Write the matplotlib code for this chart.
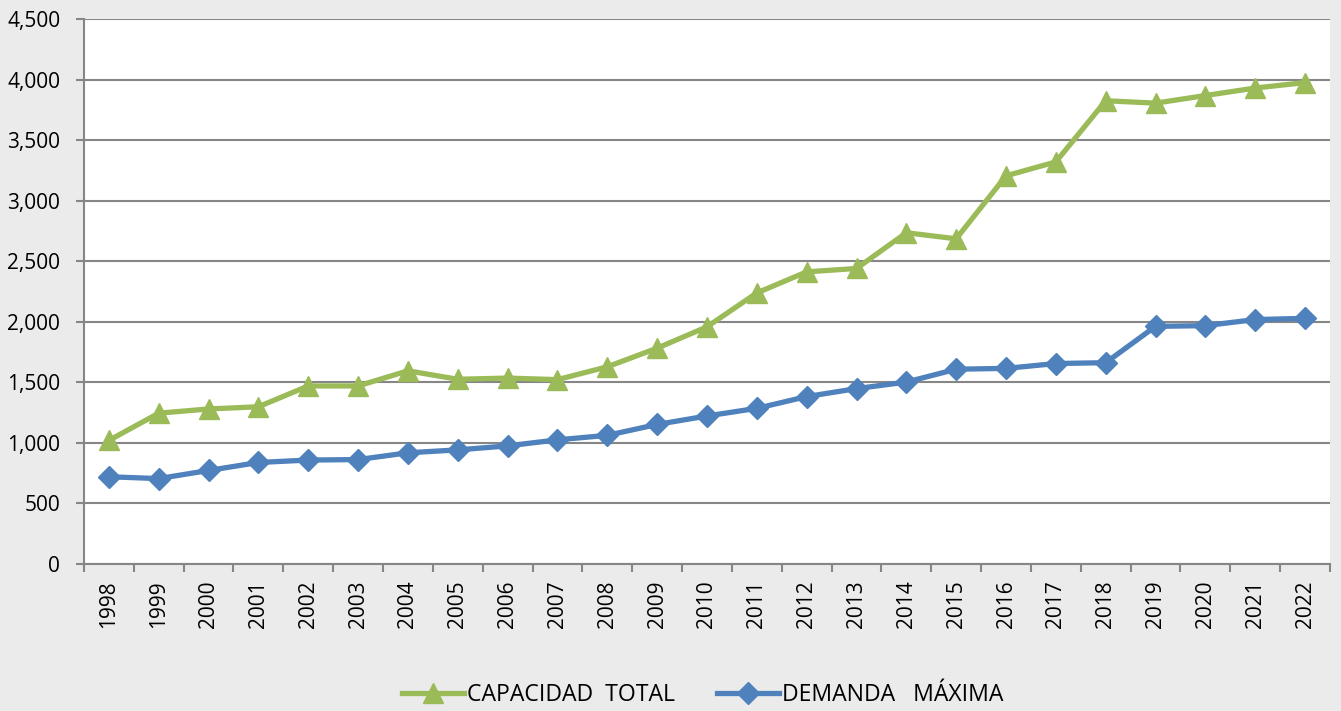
import numpy as np
import matplotlib
matplotlib.use("Agg")
import matplotlib.pyplot as plt
from matplotlib.ticker import FuncFormatter, FixedLocator

years = [str(y) for y in range(1998, 2023)]

capacidad = [1020, 1245, 1280, 1298, 1470, 1470, 1595, 1525, 1535, 1522, 1628,
             1782, 1958, 2238, 2412, 2440, 2735, 2685, 3205, 3320, 3825, 3805,
             3868, 3930, 3975]

demanda = [720, 705, 772, 838, 858, 862, 918, 942, 975, 1025, 1062, 1152,
           1222, 1285, 1382, 1448, 1502, 1608, 1615, 1655, 1662, 1962, 1968,
           2018, 2028]

plt.rcParams['font.family'] = ['Open Sans', 'DejaVu Sans']

bg = "#ebebeb"
fig = plt.figure(figsize=(13.41, 7.11), dpi=100, facecolor=bg)
ax = fig.add_axes([0.0626, 0.2068, 0.9292, 0.7665])
ax.set_facecolor("white")

x = np.arange(len(years))
ax.plot(x, capacidad, color="#9bbb59", lw=3.8, marker="^", ms=14,
        label="CAPACIDAD  TOTAL")
ax.plot(x, demanda, color="#4f81bd", lw=3.8, marker="D", ms=11,
        label="DEMANDA   MÁXIMA")

ax.set_xlim(-0.5, len(years) - 0.5)
ax.set_ylim(0, 4500)
ax.set_yticks(np.arange(0, 4501, 500))
ax.yaxis.set_major_formatter(FuncFormatter(lambda v, p: f"{int(v):,}"))
ax.yaxis.grid(True, color="#868686", lw=1.5)
ax.set_axisbelow(True)

ax.xaxis.set_major_locator(FixedLocator(np.arange(-0.5, len(years), 1)))
ax.xaxis.set_major_formatter(FuncFormatter(lambda v, p: ""))
ax.xaxis.set_minor_locator(FixedLocator(x))
ax.set_xticklabels(years, minor=True, rotation=90)
ax.tick_params(axis="x", which="major", length=6, width=1.5, color="#868686")
ax.tick_params(axis="x", which="minor", length=0, labelsize=15, pad=12)
ax.tick_params(axis="y", length=6, width=1.5, color="#868686", labelsize=15, pad=11)

for s in ["top", "right"]:
    ax.spines[s].set_visible(False)
for s in ["left", "bottom"]:
    ax.spines[s].set_color("#868686")
    ax.spines[s].set_linewidth(1.5)

fig.legend(loc="lower center", bbox_to_anchor=(0.524, -0.024), ncol=2, frameon=False,
           fontsize=16.6, handlelength=2.7, columnspacing=1.8, handletextpad=0.15)

fig.savefig("out.png", dpi=100, facecolor=bg)
